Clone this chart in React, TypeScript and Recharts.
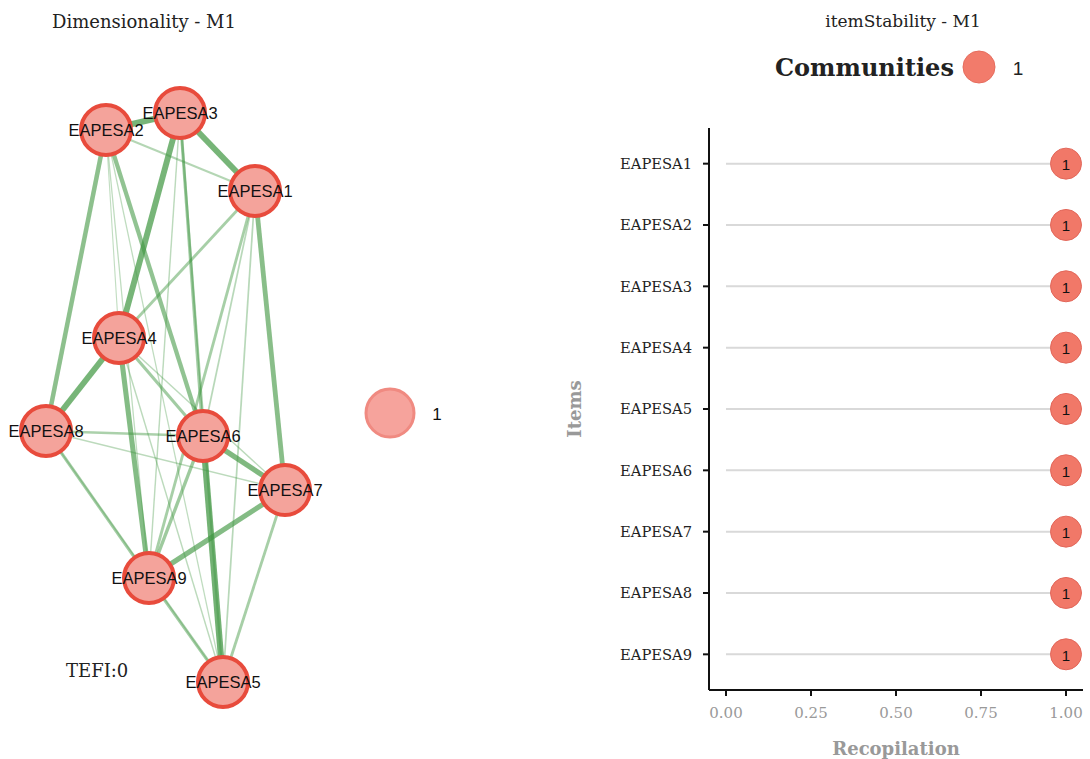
import {
  ScatterChart,
  Scatter,
  XAxis,
  YAxis,
  ReferenceLine,
  BarChart,
  Bar,
} from 'recharts';

// network layout (layout units, y grows upward)
const nodeNames = ['EAPESA1', 'EAPESA2', 'EAPESA3', 'EAPESA4', 'EAPESA5', 'EAPESA6', 'EAPESA7', 'EAPESA8', 'EAPESA9'];
const nodeX = [2.55, 1.06, 1.8, 1.19, 2.23, 2.03, 2.85, 0.46, 1.49];
const nodeY = [5.68, 6.29, 6.46, 4.21, 0.77, 3.23, 2.69, 3.28, 1.81];

// edges: [from, to, weight 0..1]
const edges: [number, number, number][] = [
  [2, 3, 0.95], [3, 1, 0.95], [2, 1, 0.25], [2, 8, 0.7], [2, 6, 0.65], [2, 9, 0.12],
  [2, 5, 0.12], [2, 4, 0.1], [3, 4, 0.95], [3, 6, 0.45], [3, 9, 0.15], [3, 5, 0.3],
  [1, 4, 0.4], [1, 7, 0.75], [1, 9, 0.4], [1, 6, 0.2], [1, 5, 0.2], [4, 8, 0.95],
  [4, 9, 0.8], [4, 6, 0.45], [4, 5, 0.15], [4, 7, 0.15], [8, 6, 0.35], [8, 7, 0.15],
  [8, 9, 0.45], [6, 7, 0.85], [6, 5, 1.0], [6, 9, 0.5], [7, 9, 0.8], [7, 5, 0.4],
  [9, 5, 0.45], [8, 5, 0.1],
];

const nodes = nodeNames.map((name, i) => ({ name, x: nodeX[i], y: nodeY[i] }));

// item stability
const items = ['EAPESA1', 'EAPESA2', 'EAPESA3', 'EAPESA4', 'EAPESA5', 'EAPESA6', 'EAPESA7', 'EAPESA8', 'EAPESA9'];
const stability = [1, 1, 1, 1, 1, 1, 1, 1, 1];
const community = [1, 1, 1, 1, 1, 1, 1, 1, 1];
const xTicks = [0, 0.25, 0.5, 0.75, 1];

const stabilityData = items.map((item, i) => ({ item, value: stability[i], community: community[i] }));

const serif = '"DejaVu Serif", serif';
const sans = '"Liberation Sans", Arial, sans-serif';

const NodeShape = (props: any) => {
  const { cx, cy, payload } = props;
  return (
    <g>
      <circle cx={cx} cy={cy} r={25} fill="#F4A39B" stroke="#E84B3C" strokeWidth={4} />
      <text x={cx} y={cy} textAnchor="middle" dominantBaseline="central" fontFamily={sans} fontSize={16.5} fill="#111">
        {payload.name}
      </text>
    </g>
  );
};

const Lollipop = (props: any) => {
  const { x, y, width, height, payload } = props;
  const cy = y + height / 2;
  return (
    <g>
      <line x1={x} y1={cy} x2={x + width} y2={cy} stroke="#d9d9d9" strokeWidth={2} />
      <circle cx={x + width} cy={cy} r={15.5} fill="#F17868" stroke="#E2675A" strokeWidth={1} />
      <text x={x + width} y={cy + 1} textAnchor="middle" dominantBaseline="central" fontFamily={sans} fontSize={15} fill="#111">
        {payload.community}
      </text>
    </g>
  );
};

const App = () => {
  return (
    <div style={{ position: 'absolute', left: 0, top: 0, width: 1090, height: 759, background: '#fff', overflow: 'hidden' }}>
      <div style={{ position: 'absolute', left: 0, top: 11, width: 288, textAlign: 'center', fontFamily: serif, fontSize: 18, color: '#222' }}>
        Dimensionality - M1
      </div>
      <div style={{ position: 'absolute', left: 0, top: 0 }}>
        <ScatterChart width={560} height={759} margin={{ top: 0, right: 0, bottom: 0, left: 0 }}>
          <XAxis type="number" dataKey="x" domain={[0, 5.6]} hide />
          <YAxis type="number" dataKey="y" domain={[0, 7.59]} hide />
          {edges.map(([a, b, w], i) => (
            <ReferenceLine
              key={i}
              segment={[
                { x: nodeX[a - 1], y: nodeY[a - 1] },
                { x: nodeX[b - 1], y: nodeY[b - 1] },
              ]}
              stroke="#3f9640"
              strokeWidth={0.6 + w * 5.6}
              strokeOpacity={0.28 + w * 0.45}
            />
          ))}
          <Scatter data={nodes} shape={NodeShape} isAnimationActive={false} />
        </ScatterChart>
      </div>
      <svg style={{ position: 'absolute', left: 360, top: 385 }} width={100} height={60}>
        <circle cx={30} cy={28} r={24} fill="#F6A39C" stroke="#F08A81" strokeWidth={3} />
        <text x={77} y={29} textAnchor="middle" dominantBaseline="central" fontFamily={sans} fontSize={17} fill="#111">1</text>
      </svg>
      <div style={{ position: 'absolute', left: 66, top: 660, fontFamily: serif, fontSize: 18, color: '#222' }}>TEFI:0</div>

      <div style={{ position: 'absolute', left: 760, top: 11, width: 286, textAlign: 'center', fontFamily: serif, fontSize: 17, color: '#222' }}>
        itemStability - M1
      </div>
      <div style={{ position: 'absolute', left: 775, top: 49, display: 'flex', alignItems: 'center' }}>
        <span style={{ fontFamily: serif, fontWeight: 'bold', fontSize: 24, color: '#222' }}>Communities</span>
        <svg width={70} height={36} style={{ marginLeft: 6 }}>
          <circle cx={19} cy={18} r={16} fill="#F27B6B" stroke="#E66D5E" strokeWidth={1} />
          <text x={58} y={19} textAnchor="middle" dominantBaseline="central" fontFamily={sans} fontSize={19} fill="#222">1</text>
        </svg>
      </div>
      <div style={{ position: 'absolute', left: 560, top: 0 }}>
        <BarChart
          width={530}
          height={759}
          layout="vertical"
          data={stabilityData}
          margin={{ top: 128, right: 7, bottom: 0, left: 0 }}
        >
          <XAxis
            type="number"
            dataKey="value"
            domain={[-0.05, 1.05]}
            ticks={xTicks}
            tickFormatter={(v: number) => v.toFixed(2)}
            allowDataOverflow
            height={69}
            axisLine={{ stroke: '#111', strokeWidth: 2 }}
            tickLine={{ stroke: '#111', strokeWidth: 2 }}
            tickSize={6}
            tickMargin={11}
            tick={{ fontFamily: serif, fontSize: 15, fill: '#999' }}
            label={{ value: 'Recopilation', position: 'insideBottom', offset: 4, style: { fontFamily: serif, fontSize: 18, fontWeight: 'bold', fill: '#999' } }}
          />
          <YAxis
            type="category"
            dataKey="item"
            width={149}
            padding={{ top: 5, bottom: 5 }}
            axisLine={{ stroke: '#111', strokeWidth: 2 }}
            tickLine={{ stroke: '#111', strokeWidth: 2 }}
            tickSize={6}
            tickMargin={11}
            tick={{ fontFamily: serif, fontSize: 14.7, fill: '#222' }}
            label={{ value: 'Items', angle: -90, position: 'insideLeft', offset: 15, style: { textAnchor: 'middle', fontFamily: serif, fontSize: 18, fontWeight: 'bold', fill: '#999' } }}
          />
          <Bar dataKey="value" shape={Lollipop} isAnimationActive={false} />
        </BarChart>
      </div>
    </div>
  );
};

export default App;
